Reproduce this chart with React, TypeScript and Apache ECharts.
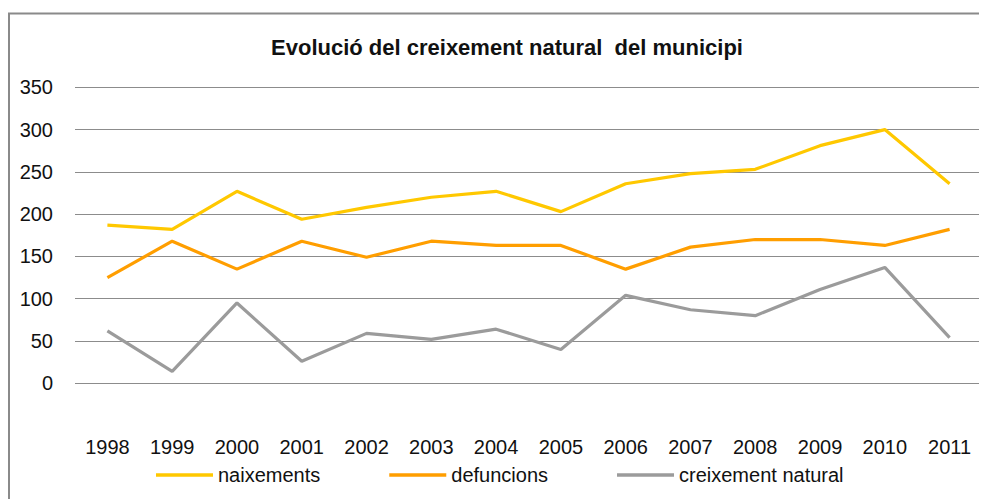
import React, { useEffect, useRef } from "react";
import * as echarts from "echarts";

const years = ["1998", "1999", "2000", "2001", "2002", "2003", "2004", "2005", "2006", "2007", "2008", "2009", "2010", "2011"];
const naixements = [187, 182, 227, 194, 208, 220, 227, 203, 236, 248, 253, 281, 300, 236];
const defuncions = [125, 168, 135, 168, 149, 168, 163, 163, 135, 161, 170, 170, 163, 182];
const creixementNatural = [62, 14, 95, 26, 59, 52, 64, 40, 104, 87, 80, 111, 137, 54];
const seriesNames = ["naixements", "defuncions", "creixement natural"];
const colors = ["#FFC800", "#FF9E00", "#9B9B9B"];

const FONT = '"Liberation Sans", Arial, sans-serif';

export default function App() {
  const ref = useRef<HTMLDivElement>(null);
  useEffect(() => {
    if (!ref.current) return;
    const chart = echarts.init(ref.current, null, { renderer: "svg" });
    const data = [naixements, defuncions, creixementNatural];
    chart.setOption({
      animation: false,
      backgroundColor: "#ffffff",
      title: {
        text: "Evolució del creixement natural  del municipi",
        left: 502 - 8,
        textAlign: "center",
        top: 23,
        textStyle: { fontFamily: FONT, fontSize: 22, fontWeight: "bold", color: "#111111" },
      },
      graphic: [
        {
          type: "rect",
          silent: true,
          shape: { x: 1, y: 5.5, width: 1200, height: 1000 },
          style: { fill: "none", stroke: "#8a8a8a", lineWidth: 2 },
        },
      ],
      legend: {
        data: seriesNames,
        icon: "rect",
        left: 143,
        top: 451,
        itemWidth: 57,
        itemHeight: 3.5,
        itemGap: 69,
        textStyle: { fontFamily: FONT, fontSize: 20, color: "#111111", lineHeight: 22 },
      },
      grid: { left: 67, right: 5, top: 79.3, bottom: 115.7, containLabel: false },
      xAxis: {
        type: "category",
        data: years,
        boundaryGap: true,
        axisLine: { show: false },
        axisTick: { show: false },
        axisLabel: { fontFamily: FONT, fontSize: 20, color: "#111111", margin: 64, verticalAlign: "middle", interval: 0 },
      },
      yAxis: {
        type: "value",
        min: 0,
        max: 350,
        interval: 50,
        axisLine: { show: false },
        axisTick: { show: false },
        axisLabel: { fontFamily: FONT, fontSize: 20, color: "#111111", margin: 22 },
        splitLine: { lineStyle: { color: "#8c8c8c", width: 1 } },
      },
      series: seriesNames.map((name, i) => ({
        name,
        type: "line",
        data: data[i],
        symbol: "none",
        color: colors[i],
        lineStyle: { width: 3.2, color: colors[i] },
      })),
    });
    return () => chart.dispose();
  }, []);
  return <div ref={ref} style={{ width: 979, height: 491 }} />;
}
